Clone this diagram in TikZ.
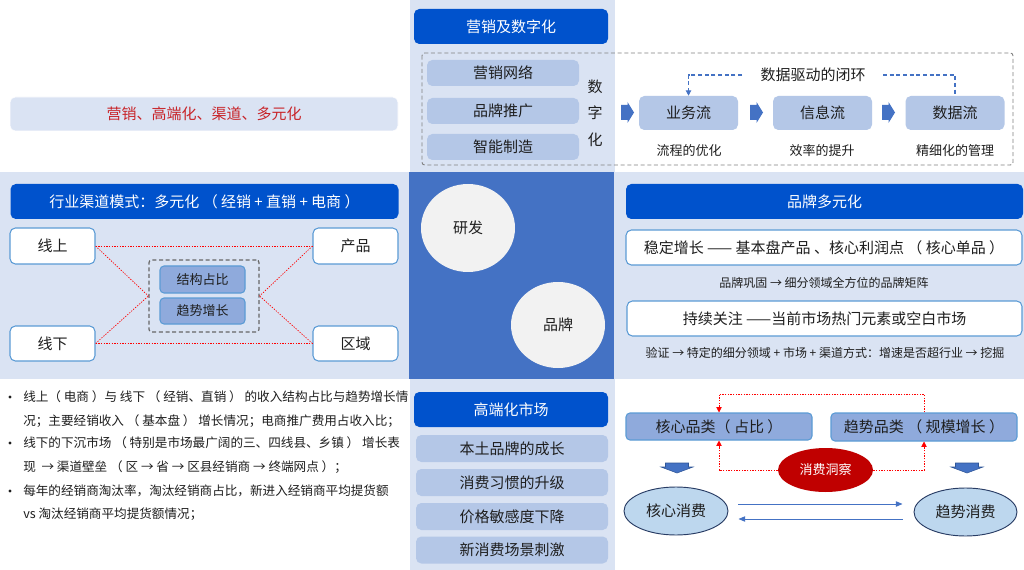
\documentclass[tikz,border=0pt]{standalone}
\usepackage{fontspec}
\setmainfont{Noto Sans CJK SC}
\usetikzlibrary{arrows.meta,shapes.geometric,calc}

\definecolor{paleblue}{RGB}{218,227,243}
\definecolor{coreblue}{RGB}{68,114,196}
\definecolor{hdblue}{RGB}{0,82,204}
\definecolor{itemblue}{RGB}{180,199,231}
\definecolor{midblue}{RGB}{143,170,220}
\definecolor{edgeblue}{RGB}{91,155,213}
\definecolor{ellblue}{RGB}{189,215,238}
\definecolor{navyline}{RGB}{40,60,100}
\definecolor{arrowedge}{RGB}{47,85,151}
\definecolor{insightred}{RGB}{192,0,0}
\definecolor{themered}{RGB}{200,35,40}
\definecolor{inkgray}{RGB}{30,30,30}

\newcommand{\fsL}{\fontsize{11.25pt}{13pt}\selectfont}
\newcommand{\fsM}{\fontsize{9.75pt}{12pt}\selectfont}
\newcommand{\fsN}{\fontsize{9.45pt}{12pt}\selectfont}
\newcommand{\fsS}{\fontsize{9pt}{11pt}\selectfont}

\tikzset{
  wh/.style 2 args={minimum width=#1*0.75pt, minimum height=#2*0.75pt},
  themebox/.style={fill=paleblue, draw=white, rounded corners=4pt, inner sep=0pt, text=themered, font=\fsL},
  titlebox/.style={fill=hdblue, rounded corners=4pt, inner sep=0pt, text=white, font=\fsL},
  itembox/.style={fill=itemblue, rounded corners=4pt, inner sep=0pt, text=inkgray, font=\fsL},
  tagbox/.style={fill=midblue, draw=edgeblue, line width=0.8pt, rounded corners=3pt, inner sep=0pt, text=inkgray},
  plainbox/.style={fill=white, draw=edgeblue, line width=0.8pt, rounded corners=4pt, inner sep=0pt, text=inkgray, font=\fsL},
  bubble/.style={ellipse, fill=white!95!black, inner sep=0pt, text=inkgray, font=\fsL},
  consume/.style={ellipse, fill=ellblue, draw=navyline, line width=0.7pt, inner sep=0pt, text=inkgray, font=\fsL},
  graydash/.style={draw=gray, line width=0.7pt, dash pattern=on 3pt off 2pt},
  bluedash/.style={draw=coreblue, line width=0.8pt, dash pattern=on 3pt off 2pt},
  reddots/.style={draw=red, line width=0.5pt, dash pattern=on 1pt off 1pt},
  txt/.style={inner sep=0pt, text=inkgray},
}

\begin{document}
\begin{tikzpicture}[x=0.75pt,y=0.75pt,yscale=-1]
\useasboundingbox (0,0) rectangle (1024,570);

%Background bands
\fill[white] (0,0) rectangle (1024,570);
\fill[paleblue] (410,0) rectangle (615,570);
\fill[paleblue] (0,172) rectangle (1024,379);
\fill[coreblue] (409,172) rectangle (614,379);

%Top left
\node[themebox, wh={388}{34}] (theme) at (204,114) {营销、高端化、渠道、多元化};

%Marketing and digitalization
\node[titlebox, wh={194}{35}] (mkt) at (511,26.5) {营销及数字化};
\draw[graydash, rounded corners=2pt] (422,53) rectangle (1013,165);
\node[itembox, wh={152}{26}] (net) at (503,73) {营销网络};
\node[itembox, wh={152}{26}] (promo) at (503,111) {品牌推广};
\node[itembox, wh={152}{26}] (manu) at (503,147) {智能制造};
\node[txt, font=\fontsize{11.25pt}{19.9pt}\selectfont, align=center] (dig) at (595,113) {数\\字\\化};

%Flow chevrons
\foreach \ax in {627.5,756.5,888.5}
  \fill[coreblue, shift={(\ax,112.5)}] (-6.5,-7.5) -- (0,-7.5) -- (0,-10.5) -- (6.5,0) -- (0,10.5) -- (0,7.5) -- (-6.5,7.5) -- cycle;

\node[itembox, wh={99}{34}] (biz) at (688.5,113) {业务流};
\node[itembox, wh={99}{34}] (info) at (822.5,113) {信息流};
\node[itembox, wh={99}{34}] (data) at (955,113) {数据流};
\node[txt, font=\fsM] (bizcap) at (689,151) {流程的优化};
\node[txt, font=\fsM] (infocap) at (822,151) {效率的提升};
\node[txt, font=\fsM] (datacap) at (955,151) {精细化的管理};

% Closed loop
\node[txt, font=\fsL] (loop) at (813,75) {数据驱动的闭环};
\draw[bluedash, -{Triangle[length=4pt,width=4pt]}] ($(loop.center)+(-71,0)$) -| (biz.north);
\draw[bluedash] ($(loop.center)+(70,0)$) -| (data.north);

%Channel model
\node[titlebox, wh={388}{35}] (chan) at (204.5,201.5) {行业渠道模式：多元化 （ 经销 + 直销 + 电商 ）};
\node[plainbox, wh={85}{36}] (online) at (52.5,246) {线上};
\node[plainbox, wh={85}{35}] (offline) at (52.5,343.5) {线下};
\node[plainbox, wh={85}{36}] (product) at (355.5,246) {产品};
\node[plainbox, wh={85}{35}] (region) at (355.5,343.5) {区域};
\node[draw=gray!80!black, line width=0.9pt, dash pattern=on 3pt off 2pt, rounded corners=2pt, wh={110}{72}] (mix) at (204,296) {};
\node[tagbox, font=\fsM, wh={85}{27}] (share) at (202.5,279.5) {结构占比};
\node[tagbox, font=\fsM, wh={85}{26}] (trend) at (202.5,311) {趋势增长};

\draw[reddots] (online.east) -- (product.west);
\draw[reddots] (offline.east) -- (region.west);
\draw[reddots] (online.east) -- (mix.west);
\draw[reddots] (offline.east) -- (mix.west);
\draw[reddots] (product.west) -- (mix.east);
\draw[reddots] (region.west) -- (mix.east);

%Center
\node[bubble, wh={94}{88}] (rnd) at (468,228) {研发};
\node[bubble, wh={94}{86}] (brand) at (558,325) {品牌};

%Brand diversification
\node[titlebox, wh={397}{35}] (brandhd) at (824.5,201.5) {品牌多元化};
\node[plainbox, wh={396}{35}] (steady) at (824,247.5) {稳定增长 —— 基本盘产品 、核心利润点 （ 核心单品 ）};
\node[txt, font=\fsS] (matrix) at (824,283) {品牌巩固 → 细分领域全方位的品牌矩阵};
\node[plainbox, wh={395}{35}] (watch) at (824.5,318.5) {持续关注 ——当前市场热门元素或空白市场};
\node[txt, font=\fsS] (verify) at (825,353) {验证 → 特定的细分领域 + 市场 + 渠道方式：增速是否超行业 → 挖掘};

%Notes
\foreach \by in {397,443,491}
  \fill[inkgray] (10,\by) circle (1.6);
\node[txt, font=\fsN, anchor=west] (n1a) at (23,397) {线上（ 电商 ）与 线下 （ 经销、直销 ） 的收入结构占比与趋势增长情};
\node[txt, font=\fsN, anchor=west] (n1b) at (23,421) {况；主要经销收入 （ 基本盘 ） 增长情况；电商推广费用占收入比；};
\node[txt, font=\fsN, anchor=west] (n2a) at (23,443) {线下的下沉市场 （ 特别是市场最广阔的三、四线县、乡镇 ） 增长表};
\node[txt, font=\fsN, anchor=west] (n2b) at (23,467) {现 \ → 渠道壁垒 （ 区 → 省 → 区县经销商 → 终端网点 ）；};
\node[txt, font=\fsN, anchor=west] (n3a) at (23,491) {每年的经销商淘汰率，淘汰经销商占比，新进入经销商平均提货额};
\node[txt, font=\fsN, anchor=west] (n3b) at (23,514) {vs 淘汰经销商平均提货额情况；};

%High-end market
\node[titlebox, wh={194}{35}] (premium) at (511,409.5) {高端化市场};
\node[itembox, wh={192}{27}] (local) at (512,448.5) {本土品牌的成长};
\node[itembox, wh={192}{27}] (habit) at (512,482.5) {消费习惯的升级};
\node[itembox, wh={192}{27}] (price) at (512,516.5) {价格敏感度下降};
\node[itembox, wh={192}{27}] (scene) at (512,550) {新消费场景刺激};

%Consumer insight
\node[tagbox, font=\fsL, wh={186}{27}] (corecat) at (719,426.5) {核心品类（ 占比 ）};
\node[tagbox, font=\fsL, wh={186}{28}] (trendcat) at (924,427) {趋势品类 （ 规模增长 ）};
\node[ellipse, fill=insightred, inner sep=0pt, text=white, font=\fsM, wh={95}{44}] (insight) at (825.5,470) {消费洞察};
\coordinate (looptop) at (820,394);
\draw[reddots, line width=0.6pt, -{Triangle[length=4pt,width=4pt]}] (trendcat.north) |- (looptop) -| (corecat.north);
\draw[reddots, line width=0.6pt, -{Triangle[length=4pt,width=4pt]}] (insight.west) -| (corecat.south);
\draw[reddots, line width=0.6pt, -{Triangle[length=4pt,width=4pt]}] (insight.east) -| (trendcat.south);

\foreach \dx in {677,967}
  \filldraw[fill=coreblue, draw=arrowedge, line width=0.4pt, shift={(\dx,463)}] (-11.5,0) -- (11.5,0) -- (11.5,4) -- (16,4) -- (0,10) -- (-16,4) -- (-11.5,4) -- cycle;

\node[consume, wh={104}{48}] (corecon) at (676,511) {核心消费};
\node[consume, wh={103}{48}] (trendcon) at (965.5,512) {趋势消费};
\draw[coreblue, line width=0.7pt, -{Triangle[length=5pt,width=4pt]}] ($(corecon.east)+(10,-7)$) -- ($(trendcon.west)+(-11,-8)$);
\draw[coreblue, line width=0.7pt, -{Triangle[length=5pt,width=4pt]}] ($(trendcon.west)+(-11,7)$) -- ($(corecon.east)+(10,8)$);

\end{tikzpicture}
\end{document}
